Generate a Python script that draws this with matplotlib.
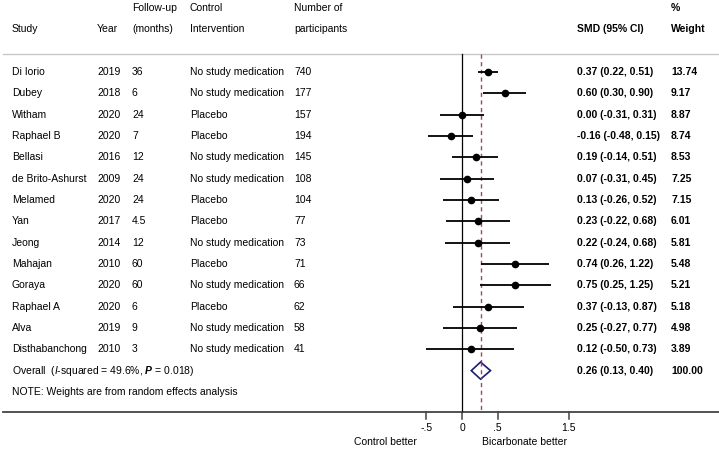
import matplotlib
matplotlib.use("Agg")
import matplotlib.pyplot as plt
import matplotlib.transforms as mtransforms

# Study level data
studies = ["Di Iorio", "Dubey", "Witham", "Raphael B", "Bellasi", "de Brito-Ashurst", "Melamed",
           "Yan", "Jeong", "Mahajan", "Goraya", "Raphael A", "Alva", "Disthabanchong"]
years = [2019, 2018, 2020, 2020, 2016, 2009, 2020, 2017, 2014, 2010, 2020, 2020, 2019, 2010]
followup = ["36", "6", "24", "7", "12", "24", "24", "4.5", "12", "60", "60", "6", "9", "3"]
control = ["No study medication", "No study medication", "Placebo", "Placebo", "No study medication",
           "No study medication", "Placebo", "Placebo", "No study medication", "Placebo",
           "No study medication", "Placebo", "No study medication", "No study medication"]
participants = [740, 177, 157, 194, 145, 108, 104, 77, 73, 71, 66, 62, 58, 41]
smd = [0.37, 0.60, 0.00, -0.16, 0.19, 0.07, 0.13, 0.23, 0.22, 0.74, 0.75, 0.37, 0.25, 0.12]
ci_low = [0.22, 0.30, -0.31, -0.48, -0.14, -0.31, -0.26, -0.22, -0.24, 0.26, 0.25, -0.13, -0.27, -0.50]
ci_high = [0.51, 0.90, 0.31, 0.15, 0.51, 0.45, 0.52, 0.68, 0.68, 1.22, 1.25, 0.87, 0.77, 0.73]
weights = [13.74, 9.17, 8.87, 8.74, 8.53, 7.25, 7.15, 6.01, 5.81, 5.48, 5.21, 5.18, 4.98, 3.89]

# Pooled estimate
overall_smd = 0.26
overall_low = 0.13
overall_high = 0.40
overall_weight = 100.00
overall_label = "Overall  ($\\mathit{I}$-squared = 49.6%, $\\mathbf{P}$ = 0.018)"

tick_values = [-0.5, 0, 0.5, 1.5]
tick_labels = ["-.5", "0", ".5", "1.5"]

plt.rcParams['font.family'] = ['Liberation Sans', 'DejaVu Sans']
plt.rcParams['mathtext.fontset'] = 'custom'
plt.rcParams['mathtext.it'] = 'Liberation Sans:italic'
plt.rcParams['mathtext.bf'] = 'Liberation Sans:italic:bold'
plt.rcParams['mathtext.rm'] = 'Liberation Sans'

W, H = 719, 451
fig = plt.figure(figsize=(W / 100, H / 100), dpi=100)
ax = fig.add_axes([0, 0, 1, 1])

# x in SMD units: zero sits at pixel 462, one unit is ~71.3 px
x0_px, unit_px = 462, 71.3
ax.set_xlim(-x0_px / unit_px, (W - x0_px) / unit_px)
# y in row units: first study at pixel 72, rows ~21.33 px apart
y0_px, row_px = 72, 21.33
ax.set_ylim((H - y0_px) / row_px, -y0_px / row_px)
ax.axis('off')

fs = 7.5
# x in pixels (axes fraction), y in rows
tr = mtransforms.blended_transform_factory(ax.transAxes, ax.transData)


def px(x):
    return x / W


n = len(studies)
rows = list(range(n))
overall_row = n
note_row = n + 1
header_line = -0.84
axis_row = 15.95

# header
col_x = {"study": 12, "year": 97, "fu": 132, "ctrl": 190, "n": 294, "smd": 577, "w": 671}
ax.text(px(col_x["study"]), -2, "Study", transform=tr, fontsize=fs, va='center')
ax.text(px(col_x["year"]), -2, "Year", transform=tr, fontsize=fs, va='center')
ax.text(px(col_x["fu"]), -3, "Follow-up", transform=tr, fontsize=fs, va='center')
ax.text(px(col_x["fu"]), -2, "(months)", transform=tr, fontsize=fs, va='center')
ax.text(px(col_x["ctrl"]), -3, "Control", transform=tr, fontsize=fs, va='center')
ax.text(px(col_x["ctrl"]), -2, "Intervention", transform=tr, fontsize=fs, va='center')
ax.text(px(col_x["n"]), -3, "Number of", transform=tr, fontsize=fs, va='center')
ax.text(px(col_x["n"]), -2, "participants", transform=tr, fontsize=fs, va='center')
ax.text(px(col_x["smd"]), -2, "SMD (95% CI)", transform=tr, fontsize=fs, va='center', fontweight='bold')
ax.text(px(col_x["w"]), -3, "%", transform=tr, fontsize=fs, va='center', fontweight='bold')
ax.text(px(col_x["w"]), -2, "Weight", transform=tr, fontsize=fs, va='center', fontweight='bold')

# horizontal rules
ax.plot([px(3), 1], [header_line, header_line], transform=tr, color='#c8c8c8', lw=1.0)
ax.plot([px(3), 1], [axis_row, axis_row], transform=tr, color='#444444', lw=1.3)

# reference lines
ax.plot([0, 0], [header_line, axis_row], color='black', lw=0.9)
ax.plot([overall_smd, overall_smd], [header_line, axis_row], color='#9a4a5c', lw=1.0,
        linestyle=(0, (3, 2.5)))

# study rows
for i in rows:
    ax.text(px(col_x["study"]), i, studies[i], transform=tr, fontsize=fs, va='center')
    ax.text(px(col_x["year"]), i, str(years[i]), transform=tr, fontsize=fs, va='center')
    ax.text(px(col_x["fu"]), i, followup[i], transform=tr, fontsize=fs, va='center')
    ax.text(px(col_x["ctrl"]), i, control[i], transform=tr, fontsize=fs, va='center')
    ax.text(px(col_x["n"]), i, str(participants[i]), transform=tr, fontsize=fs, va='center')
    ax.text(px(col_x["smd"]), i, "%.2f (%.2f, %.2f)" % (smd[i], ci_low[i], ci_high[i]),
            transform=tr, fontsize=fs, va='center', fontweight='bold')
    ax.text(px(col_x["w"]), i, "%.2f" % weights[i], transform=tr, fontsize=fs, va='center',
            fontweight='bold')
    ax.plot([ci_low[i], ci_high[i]], [i, i], color='black', lw=1.3, solid_capstyle='butt')
    ax.plot(smd[i], i, 'o', color='black', markersize=4.5)

# overall row with diamond
ax.text(px(col_x["study"]), overall_row, overall_label, transform=tr, fontsize=fs, va='center')
ax.text(px(col_x["smd"]), overall_row, "%.2f (%.2f, %.2f)" % (overall_smd, overall_low, overall_high),
        transform=tr, fontsize=fs, va='center', fontweight='bold')
ax.text(px(col_x["w"]), overall_row, "%.2f" % overall_weight, transform=tr, fontsize=fs, va='center',
        fontweight='bold')
dh = 0.4
ax.fill([overall_low, overall_smd, overall_high, overall_smd],
        [overall_row, overall_row - dh, overall_row, overall_row + dh],
        facecolor='white', edgecolor='#1c1c78', lw=1.2, zorder=3)
ax.plot([overall_smd, overall_smd], [overall_row - dh, overall_row + dh], color='#9a4a5c', lw=1.0,
        linestyle=(0, (3, 2.5)), zorder=4)

ax.text(px(col_x["study"]), note_row, "NOTE: Weights are from random effects analysis", transform=tr,
        fontsize=fs, va='center')

# x axis ticks and labels
for v, lab in zip(tick_values, tick_labels):
    ax.plot([v, v], [axis_row, axis_row + 0.3], color='#444444', lw=1.1)
    ax.text(v, axis_row + 0.72, lab, fontsize=fs, ha='center', va='center')

ax.text((385 - x0_px) / unit_px, 17.35, "Control better", fontsize=fs, ha='center', va='center')
ax.text((524 - x0_px) / unit_px, 17.35, "Bicarbonate better", fontsize=fs, ha='center', va='center')

fig.savefig("out.png", dpi=100)
